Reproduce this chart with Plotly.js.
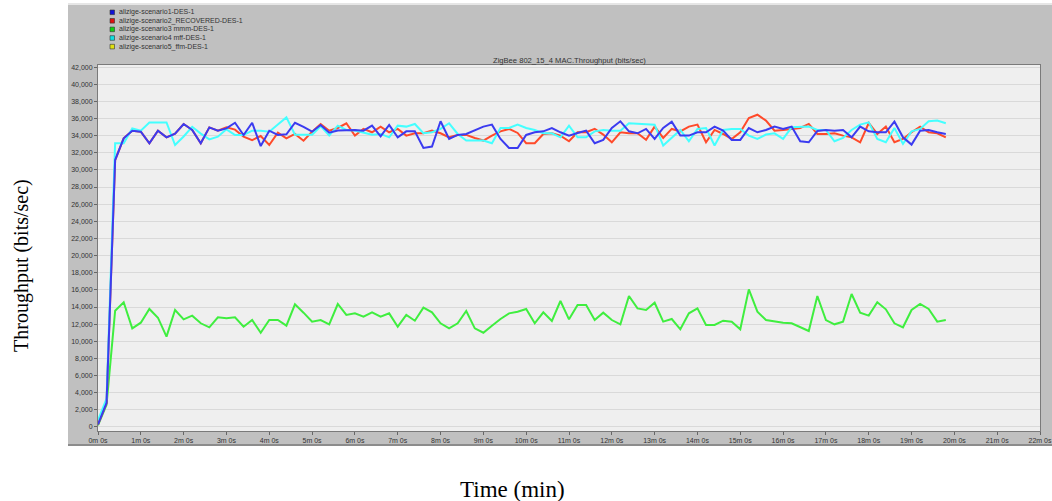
<!DOCTYPE html>
<html>
<head>
<meta charset="utf-8">
<script src="https://cdn.plot.ly/plotly-3.0.1.min.js"></script>
<style>html,body{margin:0;padding:0;background:#fff;}#chart{width:1052px;height:501px;}</style>
</head>
<body>
<div id="chart"></div>
<script>
// ---- data (time in minutes, throughput in bits/sec) ----
const timeMin = [0,0.2,0.4,0.6,0.8,1,1.2,1.4,1.6,1.8,2,2.2,2.4,2.6,2.8,3,3.2,3.4,3.6,3.8,4,4.2,4.4,4.6,4.8,5,5.2,5.4,5.6,5.8,6,6.2,6.4,6.6,6.8,7,7.2,7.4,7.6,7.8,8,8.2,8.4,8.6,8.8,9,9.2,9.4,9.6,9.8,10,10.2,10.4,10.6,10.8,11,11.2,11.4,11.6,11.8,12,12.2,12.4,12.6,12.8,13,13.2,13.4,13.6,13.8,14,14.2,14.4,14.6,14.8,15,15.2,15.4,15.6,15.8,16,16.2,16.4,16.6,16.8,17,17.2,17.4,17.6,17.8,18,18.2,18.4,18.6,18.8,19,19.2,19.4,19.6,19.8];

const scenario1 = [300,2800,31150,33680,34570,34460,33100,34570,33800,34230,35350,34650,33100,34960,34570,34840,35500,34070,35500,32780,34570,34070,34150,35500,35030,34460,35230,34340,34600,34660,34660,34580,35160,33920,35240,33800,34500,34500,32560,32720,35670,33610,34080,34190,34660,35050,35280,33610,32560,32560,34080,34390,34500,34890,34390,34000,34300,34580,33110,33500,34890,35670,34500,34270,34780,33610,34890,35630,34000,34000,34390,34390,35050,34580,33500,33500,34890,34390,34660,35050,34780,35050,33340,33220,34540,34660,34580,34660,33800,35050,34500,34390,34390,35630,33800,32950,34580,34660,34390,34190];

const scenario2 = [300,2800,31150,33680,34570,34460,33100,34570,33800,34230,35350,34650,33100,34960,34570,34960,34700,33870,33480,33950,32900,34340,33680,34190,33400,34460,35350,34570,34890,35440,34000,34780,34390,35050,34390,34780,34000,34270,34270,34580,34270,33800,34080,34080,33730,33420,34000,34500,34780,34310,33110,33110,34190,34270,34000,33340,34390,34390,34780,34120,33220,34390,34270,34270,33500,35050,33730,34780,34500,35050,35280,33220,34660,34190,33610,34390,36060,36440,35750,34580,34660,34780,34890,35360,34190,34190,34270,34000,33800,33220,35470,34190,35050,33220,33610,34390,35050,34390,34270,33800];

const scenario3 = [200,2600,13570,14550,11510,12170,13770,12750,10540,13650,12560,12990,12100,11630,12800,12680,12800,11700,12480,11000,12480,12480,11820,14310,13340,12290,12480,11980,14350,13070,13260,12870,13380,12870,13260,11700,13070,12400,13920,13380,12100,11510,12100,13530,11510,11000,11820,12600,13260,13450,13770,12100,13380,12370,14700,12560,14230,14230,12480,13340,12480,11980,15280,13840,13650,14500,12290,12600,11400,13260,13840,11900,11900,12400,12290,11400,16060,13450,12480,12290,12170,12100,11630,11200,15280,12480,11980,12290,15520,13340,12990,14550,13730,12100,11630,13650,14350,13770,12290,12480];

const scenario4 = [800,3300,33100,33100,34840,34570,35540,35540,35540,32900,33900,35030,34230,33560,33870,34730,34070,34070,34570,34570,34460,35300,36130,34100,34100,34100,35100,34000,35160,34660,34600,34390,34100,34200,33800,35160,35050,35360,34270,34390,34780,35440,34190,33420,33420,33420,33110,34890,34890,35280,34890,34660,34270,34270,33800,35160,33800,33800,34500,34660,34580,34580,35440,35360,35280,35280,32840,33800,34660,33340,34780,34890,32840,34660,34780,34780,34000,33610,34120,34270,33610,34970,34970,35050,34660,34660,33340,33730,34660,35280,35550,33610,33220,34890,33030,34500,34780,35670,35750,35440];

const scenario5 = []; // listed in legend, no visible data

const seriesNames = ["alizige-scenario1-DES-1","alizige-scenario2_RECOVERED-DES-1","alizige-scenario3 mmm-DES-1","alizige-scenario4 mff-DES-1","alizige-scenario5_ffm-DES-1"];
const lineColors = ["#3b3bf0","#ff4a2a","#3fee3f","#44ffff","#e8e800"];
const legendColors = ["#1010d8","#e01010","#10d010","#10e0e0","#e0e010"];

const xTickVals = [0,1,2,3,4,5,6,7,8,9,10,11,12,13,14,15,16,17,18,19,20,21,22];
const xTickText = ["0m 0s","1m 0s","2m 0s","3m 0s","4m 0s","5m 0s","6m 0s","7m 0s","8m 0s","9m 0s","10m 0s","11m 0s","12m 0s","13m 0s","14m 0s","15m 0s","16m 0s","17m 0s","18m 0s","19m 0s","20m 0s","21m 0s","22m 0s"];

const chartTitle = "ZigBee 802_15_4 MAC.Throughput (bits/sec)";
const yTitle = "Throughput (bits/sec)";
const xTitle = "Time (min)";

// ---- layout geometry (pixels) ----
const W = 1052, H = 501;
const M = {l: 98, r: 12, t: 65, b: 70};
const PW = W - M.l - M.r, PH = H - M.t - M.b;
const px = x => (x - M.l) / PW;
const py = y => (H - M.b - y) / PH;

const allSeries = [scenario1, scenario2, scenario3, scenario4, scenario5];
const drawOrder = [4, 2, 1, 3, 0];
const traces = drawOrder.map(i => ({
  type: 'scatter', mode: 'lines',
  x: allSeries[i].length ? timeMin.slice(0, allSeries[i].length) : [],
  y: allSeries[i],
  name: seriesNames[i],
  line: {color: lineColors[i], width: 2},
  showlegend: false, hoverinfo: 'skip'
}));

const shapes = [
  {type:'rect', xref:'paper', yref:'paper', x0: px(68), x1: px(1052), y0: py(446), y1: py(4), fillcolor:'#c0c0c0', line:{width:0}, layer:'below'},
  {type:'line', xref:'paper', yref:'paper', x0: px(68), x1: px(1052), y0: py(445), y1: py(445), line:{color:'#8c8c8c', width:2}, layer:'below'},
  {type:'line', xref:'paper', yref:'paper', x0: px(68), x1: px(1052), y0: py(4), y1: py(4), line:{color:'#e6e6e6', width:2}, layer:'below'},
  {type:'rect', xref:'paper', yref:'paper', x0: 0, x1: 1, y0: 0, y1: 1, fillcolor:'#efefef', line:{width:0}, layer:'below'}
];
const annotations = [
  {xref:'paper', yref:'paper', x: px(569), y: py(60), text: chartTitle, showarrow:false, xanchor:'center', yanchor:'middle', font:{family:'Liberation Sans', size:7.6, color:'#333'}},
  {xref:'paper', yref:'paper', x: px(21), y: py(266), text: yTitle, showarrow:false, textangle:-90, xanchor:'center', yanchor:'middle', font:{family:'Liberation Serif', size:20, color:'#000'}},
  {xref:'paper', yref:'paper', x: px(512), y: py(489), text: xTitle, showarrow:false, xanchor:'center', yanchor:'middle', font:{family:'Liberation Serif', size:23, color:'#000'}}
];
const legendRowY = [12.3, 20.8, 29.4, 38, 46.6];
seriesNames.forEach((n, i) => {
  const yc = legendRowY[i];
  shapes.push({type:'rect', xref:'paper', yref:'paper', x0: px(110), x1: px(114.5), y0: py(yc + 2.3), y1: py(yc - 2.3), fillcolor: legendColors[i], line:{color:'#333', width:0.6}, layer:'above'});
  annotations.push({xref:'paper', yref:'paper', x: px(117), y: py(yc), text: n, showarrow:false, xanchor:'left', yanchor:'middle', font:{family:'Liberation Sans', size:7, color:'#333'}});
});

const layout = {
  width: W, height: H,
  margin: M,
  paper_bgcolor: '#ffffff',
  plot_bgcolor: 'rgba(0,0,0,0)',
  showlegend: false,
  xaxis: {
    range: [0, 22], tickvals: xTickVals, ticktext: xTickText,
    showgrid: false, zeroline: false,
    showline: true, linecolor: '#7a7a7a', linewidth: 1, mirror: true,
    ticks: 'outside', ticklen: 3, tickcolor: '#666',
    tickfont: {family:'Liberation Sans', size: 7, color:'#333'}
  },
  yaxis: {
    range: [-470, 42240], dtick: 2000, tick0: 0, tickformat: ',d',
    showgrid: true, gridcolor: '#d9d9d9', gridwidth: 1, zeroline: false,
    showline: true, linecolor: '#7a7a7a', linewidth: 1, mirror: true,
    ticks: 'outside', ticklen: 3, tickcolor: '#666',
    tickfont: {family:'Liberation Sans', size: 7, color:'#333'}
  },
  shapes: shapes,
  annotations: annotations
};

Plotly.newPlot('chart', traces, layout, {displayModeBar: false, staticPlot: true});
</script>
</body>
</html>
